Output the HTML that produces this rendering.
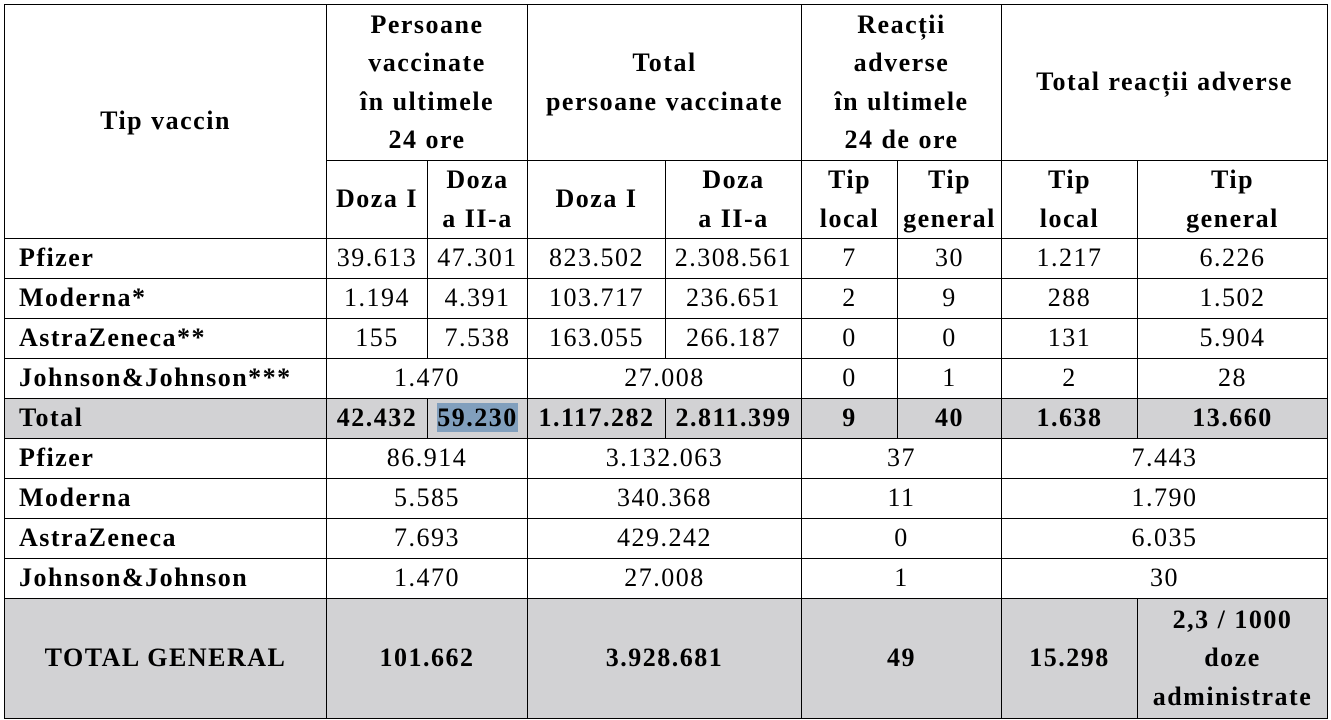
<!DOCTYPE html>
<html><head><meta charset="utf-8"><style>
body{margin:0;background:#fff;width:1331px;height:720px;overflow:hidden}
table{position:absolute;left:4px;top:4px;border-collapse:collapse;table-layout:fixed;font-family:"Liberation Serif",serif;font-size:26px;letter-spacing:1.5px;color:#000}
td{border:1.5px solid #000;padding:0;text-align:center;line-height:38.5px;vertical-align:middle;overflow:hidden;white-space:nowrap}
.h td{font-weight:bold}
.l{text-align:left;padding-left:14px;font-weight:bold}
.g td{background:#d2d2d4;font-weight:bold}
tr.r{height:40px}
.hl{background:#819fbd}
</style></head><body>
<table>
<colgroup><col style="width:322px"><col style="width:101px"><col style="width:100px"><col style="width:138px"><col style="width:136px"><col style="width:96px"><col style="width:104px"><col style="width:136px"><col style="width:190px"></colgroup>
<tr class="h" style="height:156px"><td rowspan="2">Tip vaccin</td><td colspan="2">Persoane<br>vaccinate<br>în ultimele<br>24 ore</td><td colspan="2">Total<br>persoane vaccinate</td><td colspan="2">Reacții<br>adverse<br>în ultimele<br>24 de ore</td><td colspan="2">Total reacții adverse</td></tr>
<tr class="h" style="height:78px"><td>Doza I</td><td>Doza<br>a II-a</td><td>Doza I</td><td>Doza<br>a II-a</td><td>Tip<br>local</td><td>Tip<br>general</td><td>Tip<br>local</td><td>Tip<br>general</td></tr>
<tr class="r"><td class="l">Pfizer</td><td>39.613</td><td>47.301</td><td>823.502</td><td>2.308.561</td><td>7</td><td>30</td><td>1.217</td><td>6.226</td></tr>
<tr class="r"><td class="l">Moderna*</td><td>1.194</td><td>4.391</td><td>103.717</td><td>236.651</td><td>2</td><td>9</td><td>288</td><td>1.502</td></tr>
<tr class="r"><td class="l">AstraZeneca**</td><td>155</td><td>7.538</td><td>163.055</td><td>266.187</td><td>0</td><td>0</td><td>131</td><td>5.904</td></tr>
<tr class="r"><td class="l">Johnson&amp;Johnson***</td><td colspan="2">1.470</td><td colspan="2">27.008</td><td>0</td><td>1</td><td>2</td><td>28</td></tr>
<tr class="r g"><td class="l">Total</td><td>42.432</td><td><span class="hl">59.230</span></td><td>1.117.282</td><td>2.811.399</td><td>9</td><td>40</td><td>1.638</td><td>13.660</td></tr>
<tr class="r"><td class="l">Pfizer</td><td colspan="2">86.914</td><td colspan="2">3.132.063</td><td colspan="2">37</td><td colspan="2">7.443</td></tr>
<tr class="r"><td class="l">Moderna</td><td colspan="2">5.585</td><td colspan="2">340.368</td><td colspan="2">11</td><td colspan="2">1.790</td></tr>
<tr class="r"><td class="l">AstraZeneca</td><td colspan="2">7.693</td><td colspan="2">429.242</td><td colspan="2">0</td><td colspan="2">6.035</td></tr>
<tr class="r"><td class="l">Johnson&amp;Johnson</td><td colspan="2">1.470</td><td colspan="2">27.008</td><td colspan="2">1</td><td colspan="2">30</td></tr>
<tr class="g" style="height:120px"><td>TOTAL GENERAL</td><td colspan="2">101.662</td><td colspan="2">3.928.681</td><td colspan="2">49</td><td>15.298</td><td>2,3 / 1000<br>doze<br>administrate</td></tr>
</table>
</body></html>
